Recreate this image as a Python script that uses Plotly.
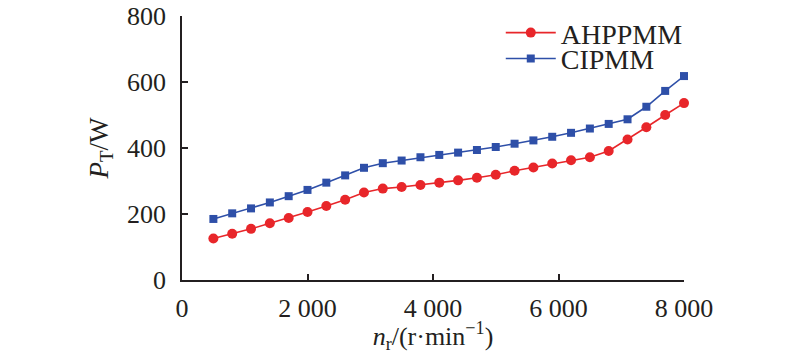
import plotly.graph_objects as go

speed = [500 + 300 * k for k in range(26)]
ahppmm = [126, 140, 155, 172, 188, 206, 224, 243, 265, 277, 282, 288,
          295, 302, 310, 319, 331, 341, 353, 363, 372, 391, 426, 463, 500, 536]
cipmm = [185, 202, 217, 235, 254, 273, 295, 317, 340, 354, 362, 372,
         379, 386, 394, 403, 413, 423, 434, 446, 459, 473, 487, 525, 573, 618]
x_ticks = [0, 2000, 4000, 6000, 8000]
x_ticktext = ["0", "2 000", "4 000", "6 000", "8 000"]
y_ticks = [0, 200, 400, 600, 800]

font_family = "Liberation Serif, Times New Roman, serif"
ink = "#231f20"

fig = go.Figure()
fig.add_trace(go.Scatter(
    x=speed, y=ahppmm, name="AHPPMM", mode="lines+markers",
    line=dict(color="#e8262a", width=1.6),
    marker=dict(symbol="circle", size=10, color="#e8262a"),
    cliponaxis=False, legend="legend",
))
fig.add_trace(go.Scatter(
    x=speed, y=cipmm, name="CIPMM", mode="lines+markers",
    line=dict(color="#2e4fa8", width=1.6),
    marker=dict(symbol="square", size=8, color="#2e4fa8"),
    cliponaxis=False, legend="legend2",
))

leg_common = dict(x=0.635, xanchor="left", yanchor="middle",
                  bgcolor="rgba(0,0,0,0)", font=dict(size=28, color=ink),
                  itemwidth=50)

fig.update_layout(
    width=800, height=354,
    margin=dict(l=182, r=116, t=16, b=74, autoexpand=False),
    paper_bgcolor="white", plot_bgcolor="white",
    font=dict(family=font_family, size=26, color=ink),
    showlegend=True,
    legend=dict(y=0.936, **leg_common),
    legend2=dict(y=0.838, **leg_common),
    xaxis=dict(
        range=[0, 8000], tickvals=x_ticks, ticktext=x_ticktext,
        showline=True, linecolor=ink, linewidth=1.5,
        ticks="inside", ticklen=6, tickcolor=ink, tickwidth=1.5,
        showgrid=False, zeroline=False, automargin=False,
        ticklabelstandoff=4,
        title=dict(text="<i>n</i><sub>r</sub>/(r·min<sup>−1</sup>)",
                   standoff=5, font=dict(family=font_family, size=26, color=ink)),
    ),
    yaxis=dict(
        range=[0, 800], tickvals=y_ticks,
        showline=True, linecolor=ink, linewidth=1.5,
        ticks="inside", ticklen=6, tickcolor=ink, tickwidth=1.5,
        showgrid=False, zeroline=False, automargin=False,
        ticklabelstandoff=9,
        title=dict(text="<i>P</i><sub>T</sub>/W", standoff=11,
                   font=dict(family=font_family, size=27, color=ink)),
    ),
)

fig.write_html("out.html")
